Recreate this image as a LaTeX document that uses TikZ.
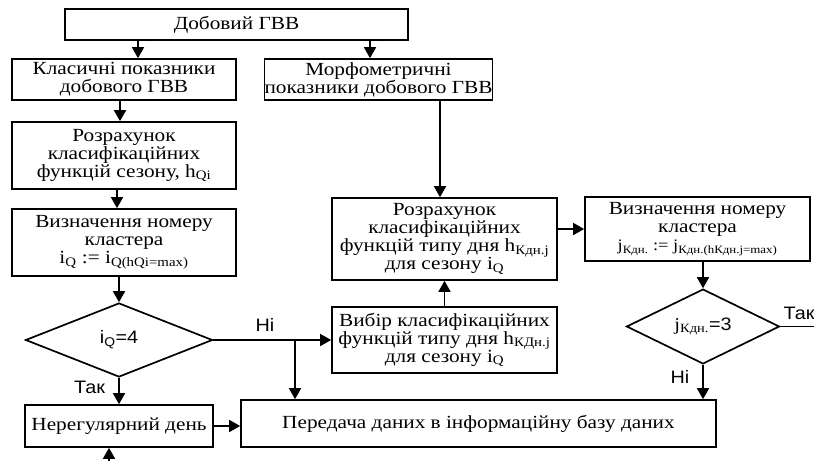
\documentclass[tikz,border=0pt]{standalone}
\usepackage{fontspec}
\setmainfont[FakeStretch=1.15]{Liberation Serif}
\setsansfont[FakeStretch=1.1]{Liberation Sans}
\usetikzlibrary{arrows.meta,shapes.geometric,calc}
\tikzset{
  box/.style 2 args={draw,line width=1.7pt,inner sep=0pt,align=center,
    minimum width=#1pt,minimum height=#2pt,font=\fontsize{18.5}{18}\selectfont},
  dia/.style 2 args={draw,diamond,line width=1.7pt,inner sep=0pt,
    minimum width=#1pt,minimum height=#2pt,font=\sffamily\fontsize{18}{18}\selectfont},
  arr/.style={line width=1.7pt,-{Triangle[length=11pt,width=12pt]}},
  ln/.style={line width=1.7pt},
  lbl/.style={font=\sffamily\fontsize{18}{18}\selectfont,inner sep=0pt}
}
\begin{document}
\begin{tikzpicture}[x=1pt,y=-1pt]
\useasboundingbox (0,0) rectangle (814,461);
\node[box={343}{31}] (top) at (236.5,24.5) {Добовий ГВВ};
\node[box={224}{41}] (klas) at (124,79.5) {Класичні показники\\добового ГВВ};
\node[box={225}{41}] (morph) at (378.5,79.5) {Морфометричні\\показники добового ГВВ};
\node[box={224}{67}] (rozr1) at (124,155.5) {Розрахунок\\класифікаційних\\функцій сезону, h\textsubscript{Qi}};
\node[box={224}{67}] (vyzn1) at (124,242.5) {Визначення номеру\\кластера\\i\textsubscript{Q} := i\textsubscript{Q(hQi=max)}};
\node[dia={187}{74}] (dia1) at (119,340) {i\textsubscript{Q}=4};
\node[box={188}{42}] (nereg) at (119,426) {Нерегулярний день};
\node[box={475}{47}] (pered) at (478.5,423.5) {Передача даних в інформаційну базу даних};
\node[box={225}{66}] (vybir) at (444.5,340) {Вибір класифікаційних\\функцій типу дня h\textsubscript{КДн.j}\\для сезону i\textsubscript{Q}};
\node[box={225}{82}] (rozr2) at (444.5,239) {Розрахунок\\класифікаційних\\функцій типу дня h\textsubscript{Кдн.j}\\для сезону i\textsubscript{Q}};
\node[box={225}{64}] (vyzn2) at (697.5,229) {Визначення номеру\\кластера\\{\fontsize{16}{18}\selectfont j\textsubscript{Кдн.} := j\textsubscript{Кдн.(hКдн.j=max)}}};
\node[dia={153}{67}] (dia2) at (703,326.5) {{\rmfamily j\textsubscript{Кдн.}}=3};
\coordinate (j1) at (295,340);
\coordinate (e2) at (814,326.5);
\coordinate (b1) at (109,461);
% connectors
\draw[arr] ([xshift=14pt]klas.north |- top.south) -- ([xshift=14pt]klas.north);
\draw[arr] ([xshift=-8.5pt]morph.north |- top.south) -- ([xshift=-8.5pt]morph.north);
\draw[arr] ([xshift=-4pt]klas.south) -- ([xshift=-4pt]rozr1.north);
\draw[arr] ([xshift=-7pt]rozr1.south) -- ([xshift=-7pt]vyzn1.north);
\draw[arr] (dia1.north |- vyzn1.south) -- (dia1.north);
\draw[arr] (dia1.south) -- (nereg.north);
\draw[arr] (dia1.east) -- (vybir.west);
\draw[arr] (j1) -- (j1 |- pered.north);
\draw[arr] (vybir.north) -- (rozr2.south);
\draw[arr] ([xshift=-4.5pt]rozr2.north |- morph.south) -- ([xshift=-4.5pt]rozr2.north);
\draw[arr] (vyzn2.west -| rozr2.east) -- (vyzn2.west);
\draw[arr] (dia2.north |- vyzn2.south) -- (dia2.north);
\draw[arr] (dia2.south) -- (dia2.south |- pered.north);
\draw[ln] (dia2.east) -- (e2);
\draw[arr] (nereg.east) -- (nereg.east -| pered.west);
\draw[arr] (b1) -- (b1 |- nereg.south);
% labels
\node[lbl] (l1) at (265,325) {Ні};
\node[lbl] (l2) at (89.5,387) {Так};
\node[lbl] (l3) at (799,313) {Так};
\node[lbl] (l4) at (680,377) {Ні};
\end{tikzpicture}
\end{document}
